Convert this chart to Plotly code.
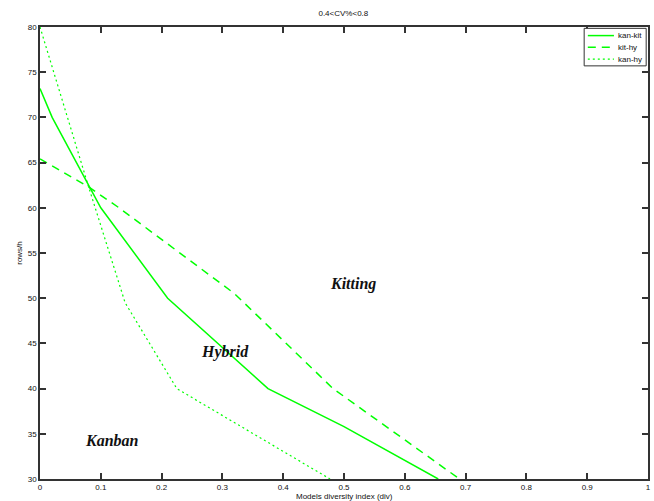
import plotly.graph_objects as go

# kan-kit (solid)
kan_kit_x = [0.0, 0.02, 0.1, 0.21, 0.375, 0.5, 0.655]
kan_kit_y = [73.2, 70.0, 60.0, 50.0, 40.0, 35.8, 30.0]
# kit-hy (dashed)
kit_hy_x = [0.0, 0.08, 0.13, 0.32, 0.482, 0.69]
kit_hy_y = [65.4, 62.3, 60.0, 50.5, 40.0, 30.0]
# kan-hy (dotted)
kan_hy_x = [0.0, 0.08, 0.14, 0.225, 0.477]
kan_hy_y = [80.0, 62.3, 49.5, 40.0, 30.0]

series_names = ["kan-kit", "kit-hy", "kan-hy"]
series_dash = ["solid", "8px,6px", "2px,3px"]
series_width = [1.5, 1.5, 1.2]

regions = ["Kitting", "Hybrid", "Kanban"]
region_x = [0.515, 0.304, 0.118]
region_y = [51.6, 44.0, 34.3]

x_ticks = [0, 0.1, 0.2, 0.3, 0.4, 0.5, 0.6, 0.7, 0.8, 0.9, 1]
x_tick_text = ["0", "0.1", "0.2", "0.3", "0.4", "0.5", "0.6", "0.7", "0.8", "0.9", "1"]
y_ticks = [30, 35, 40, 45, 50, 55, 60, 65, 70, 75, 80]

green = "#00ff00"
fig = go.Figure()
for xs, ys, nm, dsh, w in zip([kan_kit_x, kit_hy_x, kan_hy_x],
                              [kan_kit_y, kit_hy_y, kan_hy_y],
                              series_names, series_dash, series_width):
    fig.add_trace(go.Scatter(x=xs, y=ys, mode="lines", name=nm, showlegend=False,
                             line=dict(color=green, width=w, dash=dsh)))

for t, x, y in zip(regions, region_x, region_y):
    fig.add_annotation(x=x, y=y, text="<b><i>" + t + "</i></b>", showarrow=False,
                       font=dict(family="Liberation Serif", size=16, color="#111"))

# compact legend box (MATLAB style)
fig.add_shape(type="rect", xref="paper", yref="paper", x0=0.895, x1=0.997, y0=0.914, y1=0.997,
              line=dict(color="#333", width=1), fillcolor="white", layer="above")
leg_y = [0.981, 0.955, 0.929]
for nm, dsh, w, ly in zip(series_names, series_dash, series_width, leg_y):
    fig.add_shape(type="line", xref="paper", yref="paper", x0=0.901, x1=0.944, y0=ly, y1=ly,
                  line=dict(color=green, width=w, dash=dsh), layer="above")
    fig.add_annotation(xref="paper", yref="paper", x=0.948, y=ly, text=nm, showarrow=False,
                       xanchor="left", yanchor="middle",
                       font=dict(family="Liberation Sans", size=8, color="#111"))

# x axis title
fig.add_annotation(xref="paper", yref="paper", x=0.5, y=0, yshift=-17, yanchor="middle",
                   text="Models diversity index (div)", showarrow=False, borderpad=0,
                   font=dict(family="Liberation Sans", size=8, color="#111"))

axis_common = dict(showline=True, linecolor="#333", linewidth=1.5, mirror="ticks",
                   ticks="inside", ticklen=6, tickwidth=1.5, tickcolor="#333",
                   showgrid=False, zeroline=False, automargin=False,
                   tickfont=dict(family="Liberation Sans", size=8, color="#111"))

fig.update_layout(
    width=654, height=501,
    margin=dict(l=40, r=6, t=27, b=22, autoexpand=False),
    paper_bgcolor="white", plot_bgcolor="white",
    title=dict(text="0.4<CV%<0.8", x=0.525, xanchor="center", y=0.974, yanchor="middle",
               font=dict(family="Liberation Sans", size=8, color="#111")),
    xaxis=dict(range=[0, 1], tickvals=x_ticks, ticktext=x_tick_text, ticklabelstandoff=0,
               **axis_common),
    yaxis=dict(range=[30, 80], tickvals=y_ticks,
               title=dict(text="rows/h", standoff=4,
                          font=dict(family="Liberation Sans", size=8, color="#111")),
               **axis_common),
    showlegend=False,
)

fig.write_html("out.html", config={"displayModeBar": False},
               post_script="document.body.style.margin='0';document.body.style.padding='0';")
